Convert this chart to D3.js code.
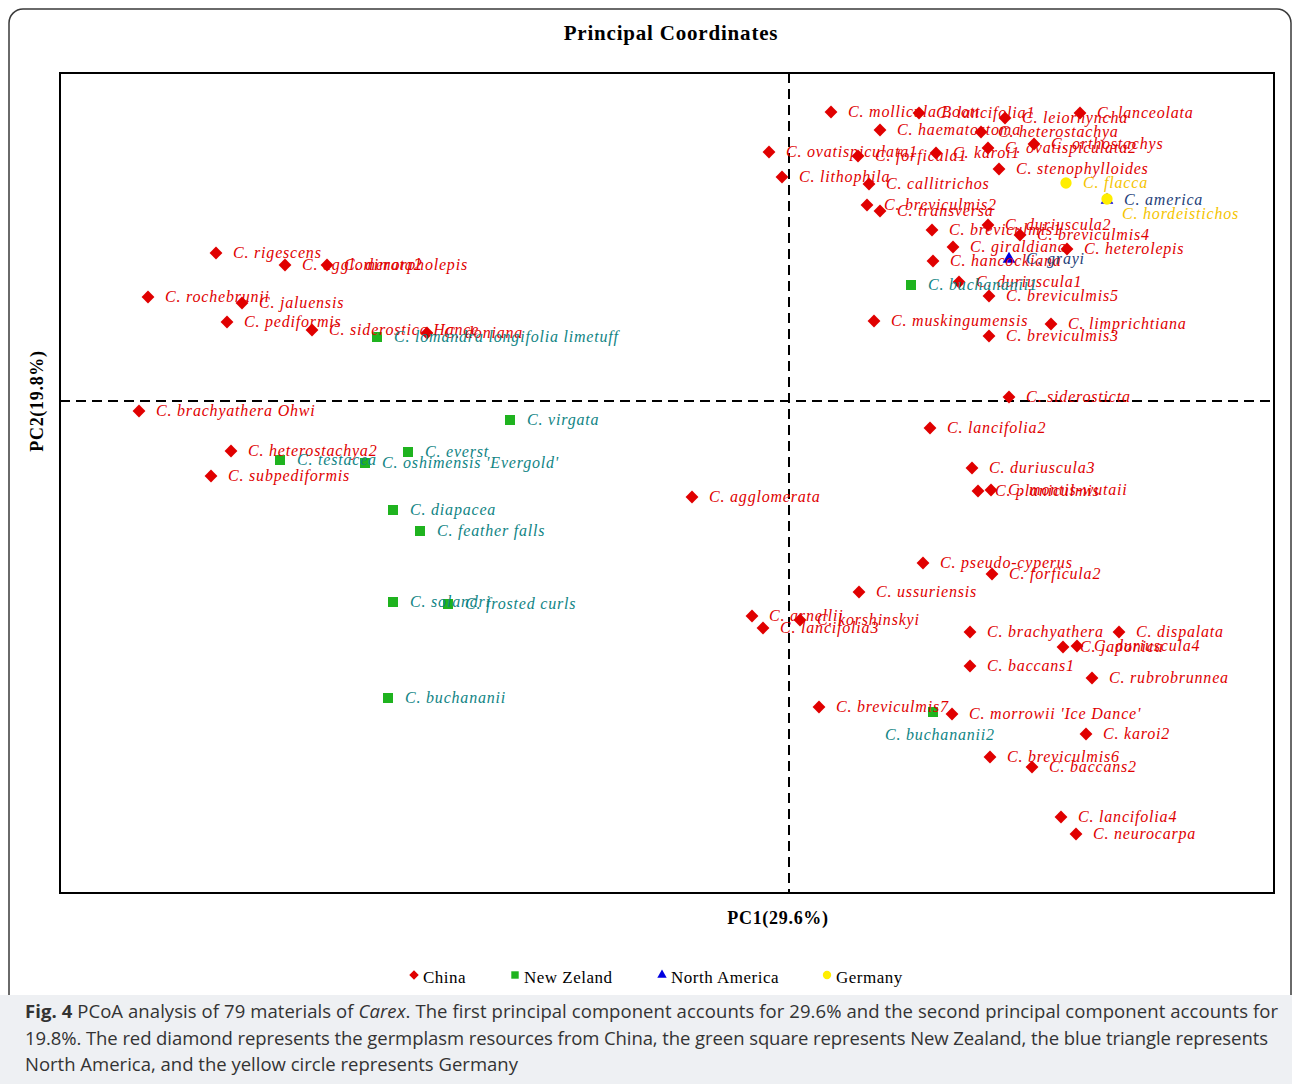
<!DOCTYPE html>
<html>
<head>
<meta charset="utf-8">
<script src="https://cdn.jsdelivr.net/npm/d3@7"></script>
<style>
  html, body { margin: 0; padding: 0; background: #ffffff; }
  svg { display: block; }
</style>
</head>
<body>
<div id="chart"></div>
<script>
// Principal coordinate scores for 79 Carex accessions
const chinaNames = [
  "C. mollicula Boott", "C. lancifolia1", "C. leiorhyncha", "C. lanceolata",
  "C. haematostoma", "C. heterostachya", "C. orthostachys", "C. ovatispiculata2",
  "C. karoi1", "C. forficula1", "C. ovatispiculata1", "C. stenophylloides",
  "C. lithophila", "C. callitrichos", "C. breviculmis2", "C. transversa",
  "C. breviculmis1", "C. duriuscula2", "C. breviculmis4", "C. giraldiana",
  "C. heterolepis", "C. hancockiana", "C. duriuscula1", "C. breviculmis5",
  "C. muskingumensis", "C. limprichtiana", "C. breviculmis3", "C. siderosticta",
  "C. lancifolia2", "C. duriuscula3", "C. planiculmis", "C. montis-wutaii",
  "C. agglomerata", "C. pseudo-cyperus", "C. forficula2", "C. ussuriensis",
  "C. arnellii", "C. korshinskyi", "C. lancifolia3", "C. brachyathera",
  "C. dispalata", "C. japonica", "C. duriuscula4", "C. baccans1",
  "C. rubrobrunnea", "C. breviculmis7", "C. morrowii 'Ice Dance'", "C. karoi2",
  "C. breviculmis6", "C. baccans2", "C. lancifolia4", "C. neurocarpa",
  "C. rigescens", "C. agglomerata2", "C. dimorpholepis", "C. rochebrunii",
  "C. jaluensis", "C. pediformis", "C. siderostica Hance", "C. doniana",
  "C. brachyathera Ohwi", "C. heterostachya2", "C. subpediformis"
];
const chinaPC1 = [
  0.042, 0.130, 0.216, 0.291, 0.091, 0.192, 0.245, 0.199,
  0.147, 0.069, -0.020, 0.210, -0.007, 0.080, 0.078, 0.091,
  0.143, 0.199, 0.231, 0.164, 0.278, 0.144, 0.170, 0.200,
  0.085, 0.262, 0.200, 0.220, 0.141, 0.183, 0.189, 0.202,
  -0.097, 0.134, 0.203, 0.070, -0.037, 0.011, -0.026, 0.181,
  0.330, 0.274, 0.288, 0.181, 0.303, 0.030, 0.163, 0.297,
  0.201, 0.243, 0.272, 0.287,
  -0.573, -0.504, -0.462, -0.641, -0.547, -0.562, -0.477, -0.362,
  -0.650, -0.558, -0.578
];
const chinaPC2 = [
  0.289, 0.288, 0.283, 0.288, 0.271, 0.269, 0.257, 0.253,
  0.248, 0.245, 0.249, 0.232, 0.224, 0.217, 0.196, 0.190,
  0.171, 0.176, 0.166, 0.154, 0.152, 0.140, 0.119, 0.105,
  0.080, 0.077, 0.065, 0.004, -0.027, -0.067, -0.090, -0.089,
  -0.096, -0.162, -0.173, -0.191, -0.215, -0.219, -0.227, -0.231,
  -0.231, -0.246, -0.245, -0.265, -0.277, -0.306, -0.313, -0.333,
  -0.356, -0.366, -0.416, -0.433,
  0.148, 0.136, 0.136, 0.104, 0.098, 0.079, 0.071, 0.068,
  -0.010, -0.050, -0.075
];

const nzNames = [
  "C. buchananii1", "C. lomandra longifolia limetuff", "C. virgata", "C. everst",
  "C. testacea", "C. oshimensis 'Evergold'", "C. diapacea", "C. feather falls",
  "C. solandri", "C. frosted curls", "C. buchananii", "C. buchananii2"
];
const nzPC1 = [0.122, -0.412, -0.279, -0.381, -0.509, -0.424, -0.396, -0.369, -0.396, -0.341, -0.401, 0.144];
const nzPC2 = [0.116, 0.064, -0.019, -0.051, -0.059, -0.062, -0.109, -0.130, -0.201, -0.203, -0.297, -0.311];

const naNames = ["C. grayi", "C. america"];
const naPC1 = [0.220, 0.318];
const naPC2 = [0.142, 0.201];

const deNames = ["C. flacca", "C. hordeistichos"];
const dePC1 = [0.277, 0.318];
const dePC2 = [0.218, 0.202];

const groupNames = ["China", "New Zeland", "North America", "Germany"];
const axisTitles = ["PC1(29.6%)", "PC2(19.8%)"];

// ---- styling ----
const W = 1292, H = 1084;
const plot = { left: 60, right: 1274, top: 73, bottom: 893 };
const serif = "'Liberation Serif', 'Times New Roman', serif";
const style = {
  "China":         { shape: d3.symbolDiamond2, size: 105, fill: "#e00000", label: "#e00000" },
  "New Zeland":    { shape: d3.symbolSquare,   size: 100, fill: "#1fb31f", label: "#108484" },
  "North America": { shape: d3.symbolTriangle, size: 70, fill: "#0000e0", label: "#1f3f7a" },
  "Germany":       { shape: d3.symbolCircle,   size: 100, fill: "#ffee00", label: "#f5c400" }
};
// individual label placements that sit off the default right-hand position
const labelShift = {
  "C. buchananii2": [-48, 28],
  "C. hordeistichos": [15, 20]
};

const points = [];
const addGroup = (g, names, xs, ys) => names.forEach((n, i) =>
  points.push({ group: g, name: n, x: xs[i], y: ys[i] }));
addGroup("China", chinaNames, chinaPC1, chinaPC2);
addGroup("New Zeland", nzNames, nzPC1, nzPC2);
addGroup("North America", naNames, naPC1, naPC2);
addGroup("Germany", deNames, dePC1, dePC2);

const x = d3.scaleLinear().domain([-0.729, 0.485]).range([plot.left, plot.right]);
const y = d3.scaleLinear().domain([-0.492, 0.328]).range([plot.bottom, plot.top]);

const svg = d3.select("#chart").append("svg")
  .attr("width", W).attr("height", H);

// figure frame and caption band
svg.append("rect").attr("x", 9).attr("y", 9).attr("width", 1282).attr("height", 1100)
  .attr("rx", 14).attr("fill", "#fff").attr("stroke", "#3a3a3a").attr("stroke-width", 1.5);
svg.append("rect").attr("x", 0).attr("y", 995).attr("width", W).attr("height", H - 995)
  .attr("fill", "#eef0f3");

svg.append("text").attr("x", 671).attr("y", 40)
  .attr("text-anchor", "middle").attr("font-family", serif)
  .attr("font-weight", "bold").attr("font-size", 21).attr("letter-spacing", 0.8)
  .text("Principal Coordinates");

// plot box
svg.append("rect").attr("x", plot.left).attr("y", plot.top)
  .attr("width", plot.right - plot.left).attr("height", plot.bottom - plot.top)
  .attr("fill", "none").attr("stroke", "#000").attr("stroke-width", 2);

// zero reference lines
svg.append("line").attr("x1", x(0)).attr("x2", x(0))
  .attr("y1", plot.top).attr("y2", plot.bottom)
  .attr("stroke", "#000").attr("stroke-width", 2).attr("stroke-dasharray", "10,6");
svg.append("line").attr("x1", plot.left).attr("x2", plot.right)
  .attr("y1", y(0)).attr("y2", y(0))
  .attr("stroke", "#000").attr("stroke-width", 2).attr("stroke-dasharray", "10,6");

// markers
const symbol = d3.symbol();
svg.append("g").selectAll("path").data(points).join("path")
  .attr("transform", d => `translate(${x(d.x)},${y(d.y)})`)
  .attr("d", d => symbol.type(style[d.group].shape).size(style[d.group].size)())
  .attr("fill", d => style[d.group].fill);

// point labels
svg.append("g").selectAll("text").data(points).join("text")
  .attr("x", d => x(d.x) + (labelShift[d.name] ? labelShift[d.name][0] : 17))
  .attr("y", d => y(d.y) + (labelShift[d.name] ? labelShift[d.name][1] : 5))
  .attr("font-family", serif).attr("font-style", "italic").attr("font-size", 16)
  .attr("letter-spacing", 0.8)
  .attr("fill", d => style[d.group].label)
  .text(d => d.name);

// axis titles
svg.append("text").attr("x", 778).attr("y", 924).attr("text-anchor", "middle")
  .attr("font-family", serif).attr("font-weight", "bold").attr("font-size", 18)
  .attr("letter-spacing", 0.7).text(axisTitles[0]);
svg.append("text").attr("transform", "translate(43,401) rotate(-90)")
  .attr("text-anchor", "middle").attr("font-family", serif)
  .attr("font-weight", "bold").attr("font-size", 18).attr("letter-spacing", 0.7)
  .text(axisTitles[1]);

// legend
const legendX = [414, 515, 662, 827];
const legend = svg.append("g");
groupNames.forEach((g, i) => {
  legend.append("path")
    .attr("transform", `translate(${legendX[i]},${975})`)
    .attr("d", symbol.type(style[g].shape).size(style[g].size * 0.55)())
    .attr("fill", style[g].fill);
  legend.append("text").attr("x", legendX[i] + 9).attr("y", 983)
    .attr("font-family", serif).attr("font-size", 17).attr("letter-spacing", 0.5).text(g);
});

// caption
const sans = "'Open Sans', 'Noto Sans', sans-serif";
const cap = svg.append("g").attr("font-family", sans).attr("font-size", 18.5).attr("fill", "#333");
const l1 = cap.append("text").attr("x", 25).attr("y", 1018)
  .attr("textLength", 1253).attr("lengthAdjust", "spacing");
l1.append("tspan").attr("font-weight", "bold").text("Fig. 4");
l1.append("tspan").text(" PCoA analysis of 79 materials of ");
l1.append("tspan").attr("font-style", "italic").text("Carex");
l1.append("tspan").text(". The first principal component accounts for 29.6% and the second principal component accounts for");
cap.append("text").attr("x", 25).attr("y", 1045)
  .attr("textLength", 1243).attr("lengthAdjust", "spacing")
  .text("19.8%. The red diamond represents the germplasm resources from China, the green square represents New Zealand, the blue triangle represents");
cap.append("text").attr("x", 25).attr("y", 1071)
  .text("North America, and the yellow circle represents Germany");
</script>
</body>
</html>
